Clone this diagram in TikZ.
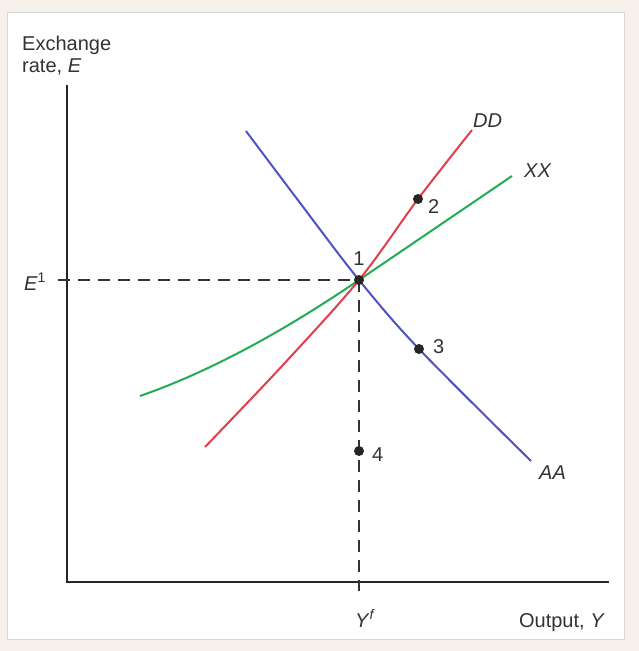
\documentclass[tikz,border=0pt]{standalone}
\usepackage{fontspec}
\setmainfont{Liberation Sans}
\begin{document}
\begin{tikzpicture}[x=1pt,y=-1pt,
  lbl/.style={font=\fontsize{20}{22}\selectfont, text=black!80, inner sep=0pt},
  axisline/.style={line width=2pt, draw=black!85},
  guide/.style={line width=1.4pt, draw=black!80, dash pattern=on 12pt off 8pt},
  curve/.style={line width=2pt},
  dot/.style={circle, fill=black!85, minimum size=10pt, inner sep=0pt},
]
\definecolor{bgcream}{RGB}{246,241,235}
\definecolor{ddred}{RGB}{226,62,74}
\definecolor{aablue}{RGB}{78,82,196}
\definecolor{xxgreen}{RGB}{34,172,84}
% background and panel
\fill[bgcream] (0,0) rectangle (639,651);
\filldraw[fill=white, draw=black!15, line width=1pt] (7,12) rectangle (624,639);
\useasboundingbox (0,0) rectangle (639,651);
% axes
\coordinate (ytop) at (67,85);
\coordinate (origin) at (67,582);
\coordinate (xend) at (609,582);
\draw[axisline] (ytop) -- (origin) -- (xend);
% guides
\coordinate (e1start) at (58,280);
\coordinate (yfend) at (359,591);
\coordinate (c1) at (359,280);
\draw[guide] (e1start) -- (c1);
\draw[guide] (c1) -- (yfend);
% curves
\coordinate (xx0) at (140,396);
\coordinate (xx1) at (512,176);
\draw[curve, xxgreen] (xx0) .. controls (213,370.5) and (286,329.6) .. (c1)
   .. controls (410,245.3) and (461,210.7) .. (xx1);
\draw[curve, ddred] plot[smooth, tension=0.55] coordinates {(205,447) (282,366) (359,280) (418,199) (472,130)};
\draw[curve, aablue] plot[smooth, tension=0.55] coordinates {(246,131) (302,205.5) (359,280) (419,349) (531,461)};
% points
\node[dot] (p1) at (c1) {};
\node[dot] (p2) at (418,199) {};
\node[dot] (p3) at (419,349) {};
\node[dot] (p4) at (359,451) {};
% labels
\node[lbl, anchor=base] (l1) at (359,265) {1};
\node[lbl, anchor=base west] (l2) at (428,213) {2};
\node[lbl, anchor=base west] (l3) at (433,353) {3};
\node[lbl, anchor=base west] (l4) at (372,461) {4};
\node[lbl, anchor=base west] (ldd) at (473,127) {\textit{DD}};
\node[lbl, anchor=base west] (lxx) at (524,177) {\textit{XX}};
\node[lbl, anchor=base west] (laa) at (539,479) {\textit{AA}};
\node[lbl, anchor=base west] (le1) at (24,290) {\textit{E}\textsuperscript{1}};
\node[lbl, anchor=base west] (lyf) at (355,627) {\textit{Y}\textsuperscript{\textit{f}}};
\node[lbl, anchor=base east] (lout) at (605,627) {Output, \textit{Y}};
\node[lbl, anchor=base west, align=left] (lex) at (22,72) {Exchange\\rate, \textit{E}};
\end{tikzpicture}
\end{document}
